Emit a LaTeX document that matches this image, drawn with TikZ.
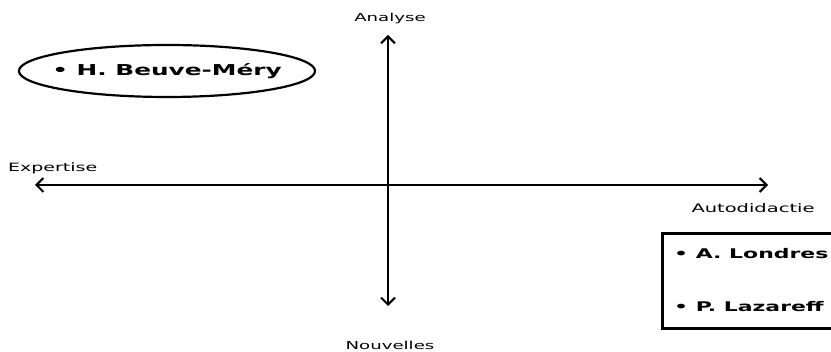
\documentclass[tikz,border=0pt]{standalone}
\usepackage{fontspec}
\setmainfont{DejaVu Sans}[FakeStretch=1.65]
\usetikzlibrary{arrows.meta,positioning,shapes.geometric}

\tikzset{
  axis/.style={line width=2pt,{Straight Barb[length=7pt,width=14pt]}-{Straight Barb[length=7pt,width=14pt]}},
  axislabel/.style={font=\fontsize{11}{13}\selectfont,inner sep=0pt},
  journo/.style={font=\fontsize{15}{18}\selectfont\bfseries,inner sep=0pt},
  boxjourno/.style={font=\fontsize{13.3}{16}\selectfont\bfseries,inner sep=0pt}
}

\begin{document}
\begin{tikzpicture}[x=1pt,y=-1pt]
  \useasboundingbox (0,0) rectangle (831,352);
  % axes
  \coordinate (top) at (388,35);
  \coordinate (bottom) at (388,306);
  \coordinate (left) at (35,185);
  \coordinate (right) at (768,185);
  \draw[axis] (bottom) -- (top);
  \draw[axis] (left) -- (right);
  \node[axislabel] (analyse) at (390,18) {Analyse};
  \node[axislabel] (nouvelles) at (390,345) {Nouvelles};
  \node[axislabel,anchor=west,font=\fontsize{11.5}{13}\selectfont] (expertise) at (8,168) {Expertise};
  \node[axislabel,font=\fontsize{11.8}{13}\selectfont] (autodidactie) at (753,208) {Autodidactie};
  % journalists
  \node[journo,draw,ellipse,line width=2.2pt,inner xsep=-10pt,inner ysep=0pt,minimum width=295pt,minimum height=52pt] (beuve) at (167,71) {• H. Beuve-Méry};
  \node[draw,line width=2.6pt,anchor=north west,minimum width=200pt,minimum height=95pt] (box) at (661,232) {};
  \node[boxjourno,anchor=west] (londres) at (674,254) {• A. Londres};
  \node[boxjourno,anchor=west] (lazareff) at (674,307) {• P. Lazareff};
\end{tikzpicture}
\end{document}
